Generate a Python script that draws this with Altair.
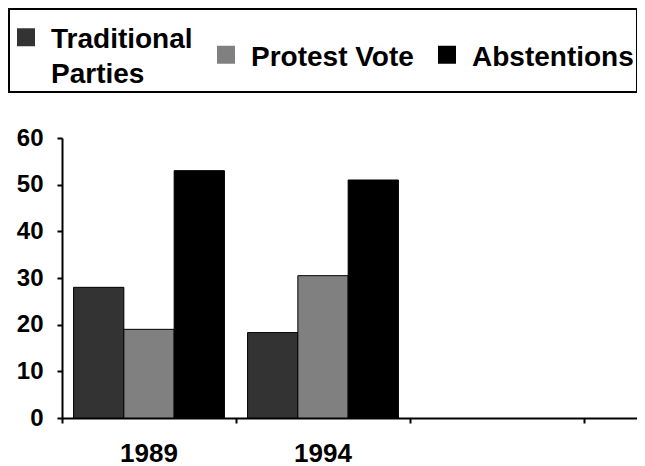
import altair as alt
import pandas as pd

# ---- data ----
years = ["1989", "1994"]
slots = ["1989", "1994", "slot3", "slot4"]          # category axis has two empty slots
series = ["Traditional Parties", "Protest Vote", "Abstentions"]
traditional = [28, 18.3]
protest = [19, 30.5]
abstentions = [53, 51]
y_ticks = [0, 10, 20, 30, 40, 50, 60]
colors = ["#333333", "#808080", "#000000"]

rows = []
for i, yr in enumerate(years):
    for s, vals in zip(series, [traditional, protest, abstentions]):
        rows.append({"year": yr, "series": s, "value": vals[i]})
df = pd.DataFrame(rows)

FONT = "Liberation Sans"
year_test = " || ".join(f"datum.value == '{y}'" for y in years)

chart = alt.Chart(df).mark_bar(stroke="black", strokeWidth=1).encode(
    x=alt.X(
        "year:N",
        scale=alt.Scale(domain=slots, range=[0, 696], paddingInner=0, paddingOuter=0),
        axis=alt.Axis(
            title=None, labelAngle=0, bandPosition=0,
            labelExpr=f"({year_test}) ? datum.value : ''",
            labelFont=FONT, labelFontSize=26, labelFontWeight="bold", labelColor="black",
            labelBaseline="alphabetic", labelPadding=38,
            domainColor="black", domainWidth=2,
            tickColor="black", tickWidth=2, tickSize=5, grid=False,
        ),
    ),
    xOffset=alt.XOffset(
        "series:N", sort=series,
        scale=alt.Scale(domain=series, paddingInner=0, paddingOuter=0.23),
    ),
    y=alt.Y(
        "value:Q",
        scale=alt.Scale(domain=[0, 60], nice=False),
        axis=alt.Axis(
            title=None, values=y_ticks,
            labelFont=FONT, labelFontSize=24, labelFontWeight="bold", labelColor="black",
            labelPadding=14,
            domainColor="black", domainWidth=2,
            tickColor="black", tickWidth=2, tickSize=5, grid=False,
        ),
    ),
    color=alt.Color(
        "series:N",
        scale=alt.Scale(domain=series, range=colors),
        legend=alt.Legend(
            title=None, orient="none", legendX=-53, legendY=-129,
            direction="horizontal", columns=3,
            labelExpr="datum.value == 'Traditional Parties' ? ['Traditional', 'Parties'] : datum.label",
            labelFont=FONT, labelFontSize=28, labelFontWeight="bold", labelColor="black",
            labelBaseline="top",
            labelLimit=400, labelOffset=11, columnPadding=19,
            symbolType="M-1,0.25L1,0.25L1,2.25L-1,2.25Z",
            symbolSize=324, symbolStrokeWidth=0, symbolOpacity=1,
            strokeColor="black", fillColor="white", padding=3,
        ),
    ),
).properties(
    width=575, height=280,
    autosize=alt.AutoSizeParams(type="none"),
    padding={"left": 54, "top": 130, "right": 0, "bottom": 48},
).configure(
    style={"guide-label": {"lineHeight": 35}}
).configure_view(stroke=None).configure_legend(strokeWidth=2)

chart.save("out.html", embed_options={"renderer": "svg", "actions": False})
